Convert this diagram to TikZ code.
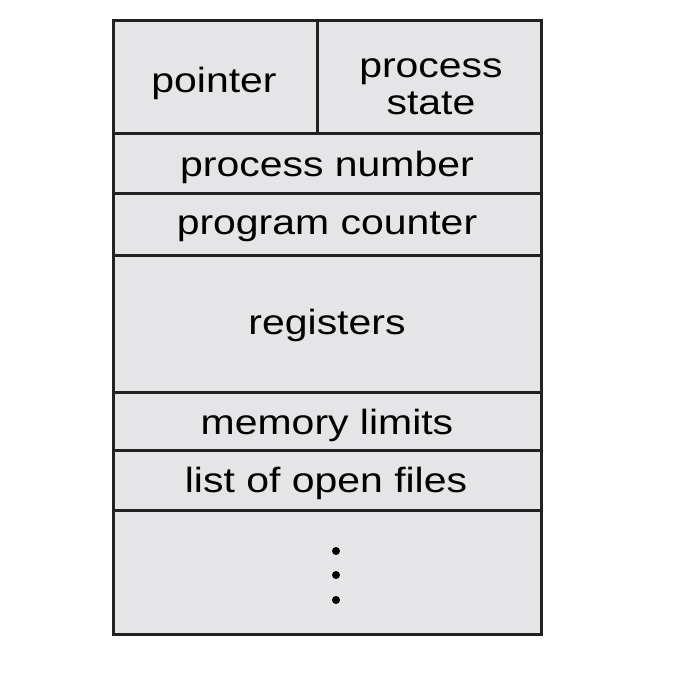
\documentclass[tikz,border=0pt]{standalone}
\usepackage{fontspec}
\setmainfont{Liberation Sans}[FakeStretch=1.17]
\definecolor{cellfill}{HTML}{E5E4E6}
\definecolor{edge}{HTML}{222222}
\tikzset{
  cell/.style={draw=edge, fill=cellfill, line width=3pt, inner sep=0pt},
  lbl/.style={anchor=base, inner sep=0pt, font=\fontsize{35}{40}\selectfont, text=black},
  dotmark/.style={circle, fill=black, inner sep=0pt, minimum size=8pt}
}
\begin{document}
\begin{tikzpicture}[x=1pt,y=-1pt]
\useasboundingbox (0,0) rectangle (682,678);
% cells
\draw[cell] (113,20) rectangle (541,634);
\draw[cell] (113,20) rectangle (317,133);
\draw[cell] (317,20) rectangle (541,133);
\draw[cell] (113,133) rectangle (541,193);
\draw[cell] (113,193) rectangle (541,255);
\draw[cell] (113,255) rectangle (541,392);
\draw[cell] (113,392) rectangle (541,450);
\draw[cell] (113,450) rectangle (541,510);
\draw[cell] (113,510) rectangle (541,634);
% labels
\node[lbl] (ptr) at (214,92) {pointer};
\node[lbl] (ps1) at (431,77) {process};
\node[lbl] (ps2) at (431,114) {state};
\node[lbl] (pn) at (327,176) {process number};
\node[lbl] (pc) at (327,234) {program counter};
\node[lbl] (reg) at (327,334) {registers};
\node[lbl] (ml) at (327,434) {memory limits};
\node[lbl] (lof) at (326,492) {list of open files};
% dots
\node[dotmark] (d1) at (336,551) {};
\node[dotmark] (d2) at (336,575) {};
\node[dotmark] (d3) at (336,600) {};
\end{tikzpicture}
\end{document}
